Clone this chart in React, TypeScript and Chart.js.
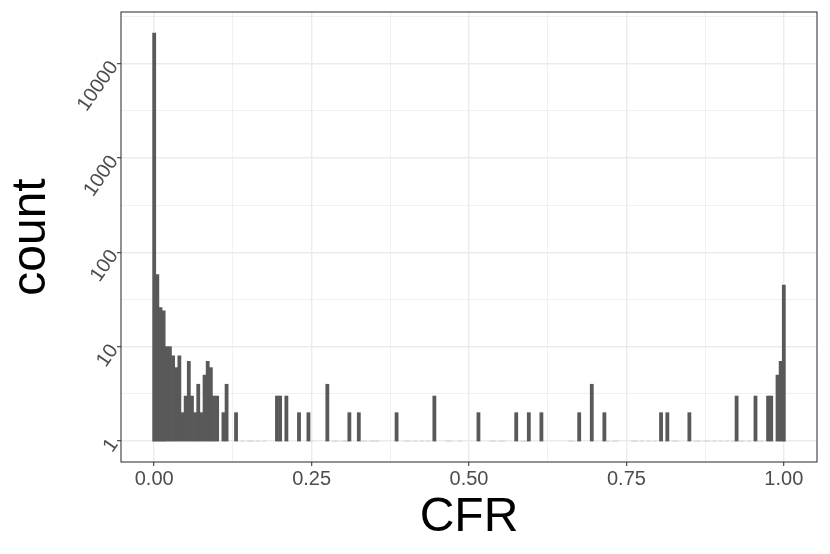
import React, { useEffect, useRef } from "react";
import { Chart, registerables } from "chart.js";

Chart.register(...registerables);

// Histogram bins (bin centres, width 0.005) and their counts
const cfrBins = [
  0, 0.005, 0.01, 0.015, 0.02, 0.025, 0.03, 0.035, 0.04, 0.045, 0.05, 0.055, 0.06, 0.065, 0.07, 0.075,
  0.08, 0.085, 0.09, 0.095, 0.1, 0.11, 0.115, 0.13, 0.14, 0.15, 0.155, 0.165, 0.175, 0.195, 0.2, 0.21,
  0.23, 0.245, 0.25, 0.275, 0.285, 0.29, 0.3, 0.305, 0.31, 0.325, 0.33, 0.335, 0.345, 0.35, 0.355,
  0.385, 0.4, 0.405, 0.415, 0.425, 0.435, 0.445, 0.465, 0.47, 0.485, 0.515, 0.535, 0.54, 0.55, 0.555,
  0.575, 0.585, 0.59, 0.595, 0.615, 0.66, 0.665, 0.675, 0.695, 0.715, 0.72, 0.73, 0.735, 0.76, 0.765,
  0.775, 0.785, 0.795, 0.805, 0.815, 0.825, 0.83, 0.85, 0.86, 0.865, 0.875, 0.88, 0.89, 0.9, 0.91, 0.92,
  0.925, 0.93, 0.935, 0.945, 0.955, 0.96, 0.965, 0.975, 0.98, 0.99, 0.995, 1,
];
const binCounts = [
  21000, 58, 26, 24, 10, 10, 8, 6, 8, 2, 3, 7, 3, 2, 4, 2,
  5, 7, 6, 3, 3, 2, 4, 2, 1, 1, 1, 1, 1, 3, 3, 3,
  2, 2, 1, 4, 1, 1, 1, 1, 2, 2, 1, 1, 1, 1, 1,
  2, 1, 1, 1, 1, 1, 3, 1, 1, 1, 2, 1, 1, 1, 1,
  2, 1, 1, 2, 2, 1, 1, 2, 4, 2, 1, 1, 1, 1, 1,
  1, 1, 1, 2, 2, 1, 1, 2, 1, 1, 1, 1, 1, 1, 1, 1,
  3, 1, 1, 1, 3, 1, 1, 3, 3, 5, 7, 45,
];

// Axis ticks
const xMajorTicks = [0, 0.25, 0.5, 0.75, 1];
const xMinorTicks = [0.125, 0.375, 0.625, 0.875];
const yMajorTicks = [1, 10, 100, 1000, 10000];
const yMinorTicks = [3.1623, 31.623, 316.23, 3162.3, 31623];
const xRange = [-0.0527, 1.0527];
const yRange = [0.607, 35200];

const xTitle = "CFR";
const yTitle = "count";

const isMajorX = (v: number) => xMajorTicks.some((t) => Math.abs(t - v) < 1e-9);
const isMajorY = (v: number) => yMajorTicks.some((t) => Math.abs(t - v) / t < 1e-6);

const panelBorder = {
  id: "panelBorder",
  afterDatasetsDraw(chart: any) {
    const { ctx, chartArea } = chart;
    ctx.save();
    ctx.strokeStyle = "#333333";
    ctx.lineWidth = 1.07;
    ctx.strokeRect(chartArea.left, chartArea.top, chartArea.right - chartArea.left, chartArea.bottom - chartArea.top);
    ctx.restore();
  },
};

export default function App() {
  const ref = useRef<HTMLCanvasElement | null>(null);

  useEffect(() => {
    if (!ref.current) return;
    Chart.defaults.font.family = "'Liberation Sans', Arial, sans-serif";
    const data = cfrBins.map((x, i) => ({ x, y: [1, binCounts[i]] }));
    const chart = new Chart(ref.current, {
      type: "bar",
      data: {
        datasets: [
          {
            data: data as any,
            backgroundColor: (c: any) => (binCounts[c.dataIndex] === 1 ? "#c4c4c4" : "#595959"),
            borderWidth: 0,
            barPercentage: 1,
            categoryPercentage: 1,
          },
        ],
      },
      options: {
        animation: false,
        responsive: false,
        layout: { padding: { left: 0, right: 13, top: 12, bottom: 0 } },
        plugins: { legend: { display: false }, tooltip: { enabled: false } },
        scales: {
          x: {
            type: "linear",
            position: "bottom",
            offset: false,
            min: xRange[0],
            max: xRange[1],
            afterBuildTicks: (s: any) => {
              s.ticks = [...xMajorTicks, ...xMinorTicks].sort((a, b) => a - b).map((v) => ({ value: v }));
            },
            afterFit: (s: any) => {
              s.height = 92;
              s.paddingLeft = 0;
              s.paddingRight = 0;
            },
            ticks: {
              autoSkip: false,
              maxRotation: 0,
              minRotation: 0,
              padding: 1,
              color: "#4d4d4d",
              font: { size: 20 },
              callback: (v: any) => (isMajorX(Number(v)) ? Number(v).toFixed(2) : ""),
            },
            grid: {
              offset: false,
              color: "#ebebeb",
              lineWidth: (c: any) => (c.tick && isMajorX(c.tick.value) ? 1.4 : 0.7),
              tickColor: (c: any) => (c.tick && isMajorX(c.tick.value) ? "#333333" : "rgba(0,0,0,0)"),
              tickLength: 4,
              tickWidth: 1.07,
            },
            border: { display: false },
            title: {
              display: true,
              text: xTitle,
              color: "#000000",
              font: { size: 48 },
              padding: { top: 0, bottom: 7 },
            },
          },
          y: {
            type: "logarithmic",
            position: "left",
            min: yRange[0],
            max: yRange[1],
            afterBuildTicks: (s: any) => {
              s.ticks = [...yMajorTicks, ...yMinorTicks].sort((a, b) => a - b).map((v) => ({ value: v }));
            },
            afterFit: (s: any) => {
              s.width = 121;
              s.paddingTop = 0;
              s.paddingBottom = 0;
            },
            ticks: {
              autoSkip: false,
              minRotation: 55,
              maxRotation: 55,
              padding: 3,
              color: "#4d4d4d",
              font: { size: 20 },
              callback: (v: any) => (isMajorY(Number(v)) ? String(Math.round(Number(v))) : ""),
            },
            grid: {
              color: "#ebebeb",
              lineWidth: (c: any) => (c.tick && isMajorY(c.tick.value) ? 1.4 : 0.7),
              tickColor: (c: any) => (c.tick && isMajorY(c.tick.value) ? "#333333" : "rgba(0,0,0,0)"),
              tickLength: 4,
              tickWidth: 1.07,
            },
            border: { display: false },
            title: {
              display: true,
              text: yTitle,
              color: "#000000",
              font: { size: 48 },
              padding: { top: 3, bottom: 0 },
            },
          },
        },
      },
      plugins: [panelBorder],
    });
    return () => chart.destroy();
  }, []);

  return (
    <div style={{ position: "fixed", left: 0, top: 0, width: 830, height: 554, background: "#ffffff" }}>
      <canvas ref={ref} width={830} height={554} style={{ display: "block" }} />
    </div>
  );
}
